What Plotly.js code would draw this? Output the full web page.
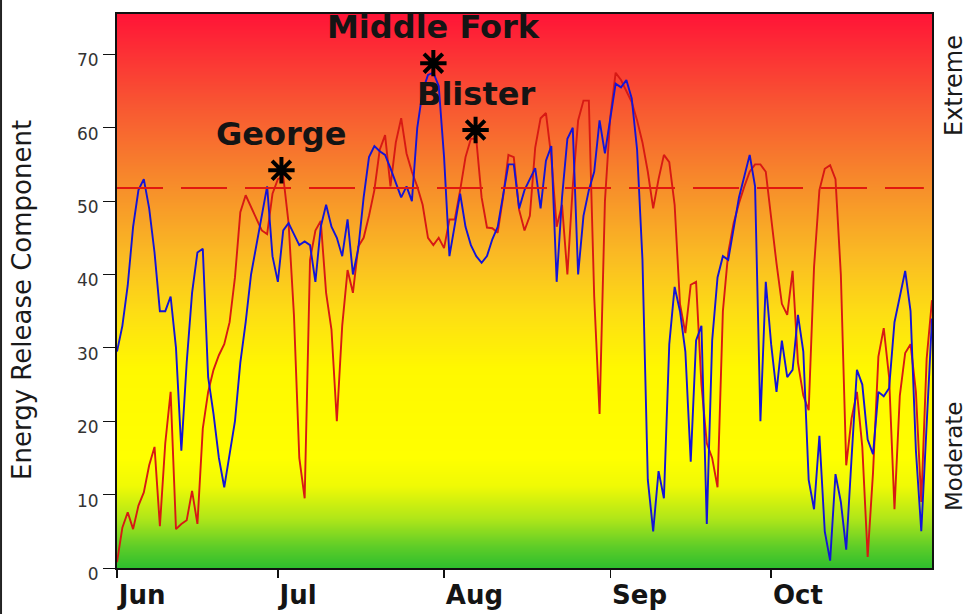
<!DOCTYPE html>
<html>
<head>
<meta charset="utf-8">
<script src="https://cdn.plot.ly/plotly-3.0.1.min.js"></script>
<style>html,body{margin:0;padding:0;background:#fff;}#chart{width:969px;height:614px;}</style>
</head>
<body>
<div id="chart"></div>
<script>
// ---- data ----
const startDate = [2003, 5, 1];   // June 1 (month index 5)
const blueERC = [29.5,33,38.5,46.5,51.5,53,49,43,35,35,37,30,16,28,37.5,43,43.5,26,21,15,11,15.5,20,28,33.5,
  40,44,48.5,52,42.5,39,46,47,45.5,44,44.5,44,39,46.5,49.5,46.5,45,42.5,47.5,40,43.5,50.5,56,57.5,56.8,
  56.3,54.5,52.5,50.5,52,50,60,65,67.2,67.5,65.7,56,42.5,46.5,51,46.5,44,42.5,41.6,42.5,44.8,46.5,50.5,55,55,
  49,51.5,53,54.5,49,55.5,57.5,39,50.5,58.5,60,40,48,51.5,54,61,56.5,61,66,65.5,66.5,64,57,42,12,
  5,13.2,9.5,30.5,38.3,35,29.5,14.5,31,33,6,31,39.6,42.5,42,46.5,50.5,53.4,56.3,52,20,39,30.5,24,31,
  26,27,34.5,29.5,12,8,18,5,1,12.8,9,2.5,15,27,25,17.5,15.5,24,23.4,24.5,33.5,37,40.5,35,16,5,20.4,34];
const redERC = [0.8,5.5,7.6,5.3,8.5,10.3,14,16.5,5.7,17,24,5.3,6,6.5,10.5,6,19,24,27,29,30.5,33.5,39.6,48.5,50.8,
  49.2,47.5,46,45.5,51,53,53.4,47,34.5,15,9.5,42,46,47.3,37.5,32.5,20,33,40.6,37.5,43.8,45,48,51.5,57,
  59,52,58,61.3,56.5,54,52,49.5,45,44,45,43.6,47.5,47.5,51.5,56,58.5,58.5,50.5,46.4,46.3,45.7,50.5,56.3,56,
  48.8,46,48,57.3,61.3,62,56,46.5,49.5,40,52,61,63.7,63.7,37,21,50,61.5,67.5,66.5,65,63.5,61,58,54,
  49,53,56.3,55.3,49.5,36,32,38.6,39,25,17,15,11,35,43,47,49.7,52,54,55,55,54,47.5,41.5,36,
  34.5,40.5,28,23.5,21.5,41,51.5,54.4,54.9,53,40,14,20.4,24,16.5,1.5,13,28.8,32.7,26,8,23.5,29.3,30.5,24,9,28.5,36.5];
const fireNames = ['George', 'Middle Fork', 'Blister'];
const fireDates = ['2003-07-01 16:00', '2003-07-30 00:00', '2003-08-06 21:00'];
const fireERC = [54.2, 68.8, 59.7];
const monthTicks = ['2003-06-01', '2003-07-01', '2003-08-01', '2003-09-01', '2003-10-01'];
const monthLabels = ['Jun', 'Jul', 'Aug', 'Sep', 'Oct'];
const yTicks = [0, 10, 20, 30, 40, 50, 60, 70];
const threshold = 51.8;
const xRange = ['2003-06-01', '2003-10-31'];
const yRange = [0, 75.5];
// background gradient levels (value axis)
const bgLevels = [-10, 0, 10, 20, 30, 40, 50, 60, 70, 80, 90];

// ---- build ----
const dates = blueERC.map((_, i) => {
  const d = new Date(Date.UTC(startDate[0], startDate[1], startDate[2] + i));
  return d.toISOString().slice(0, 10);
});

const bgColorscale = [
  [0.00, 'rgb(45,190,45)'],
  [0.04, 'rgb(95,205,40)'],
  [0.09, 'rgb(175,230,25)'],
  [0.15, 'rgb(240,250,5)'],
  [0.20, 'rgb(255,255,0)'],
  [0.36, 'rgb(255,248,0)'],
  [0.46, 'rgb(253,222,20)'],
  [0.56, 'rgb(250,188,35)'],
  [0.68, 'rgb(247,145,42)'],
  [0.84, 'rgb(248,85,50)'],
  [1.00, 'rgb(255,20,55)']
];

const bg = {
  type: 'heatmap',
  x: ['2003-05-20', '2003-11-10'],
  y: bgLevels,
  z: bgLevels.map(v => [v, v]),
  zmin: yRange[0], zmax: yRange[1],
  zsmooth: 'best',
  colorscale: bgColorscale,
  showscale: false,
  hoverinfo: 'skip'
};

const redTrace = {
  type: 'scatter', mode: 'lines', x: dates, y: redERC,
  line: {color: 'rgb(215,25,20)', width: 1.9}, hoverinfo: 'x+y', name: 'red'
};
const blueTrace = {
  type: 'scatter', mode: 'lines', x: dates, y: blueERC,
  line: {color: 'rgb(20,20,215)', width: 1.9}, hoverinfo: 'x+y', name: 'blue'
};
const stars = {
  type: 'scatter', mode: 'markers', x: fireDates, y: fireERC,
  marker: {symbol: 'asterisk-open', size: 22, color: '#000', line: {color: '#000', width: 4}},
  hoverinfo: 'text', text: fireNames, cliponaxis: false
};

const annotations = fireNames.map((n, i) => ({
  x: fireDates[i], y: fireERC[i], xref: 'x', yref: 'y', text: '<b>' + n + '</b>',
  showarrow: false, yshift: 36, xanchor: 'center', yanchor: 'middle',
  font: {family: 'DejaVu Sans', size: 32, color: '#141414'}
}));
annotations.push(
  {x: -0.1166, y: 0.4838, xref: 'paper', yref: 'paper', text: 'Energy Release Component',
   textangle: -90, showarrow: false, xanchor: 'center', yanchor: 'middle',
   font: {family: 'DejaVu Sans', size: 26, color: '#1a1a1a'}},
  {x: 1.0270, y: 0.870, xref: 'paper', yref: 'paper', text: 'Extreme',
   textangle: -90, showarrow: false, xanchor: 'center', yanchor: 'middle',
   font: {family: 'DejaVu Sans', size: 24, color: '#1a1a1a'}},
  {x: 1.0270, y: 0.2004, xref: 'paper', yref: 'paper', text: 'Moderate',
   textangle: -90, showarrow: false, xanchor: 'center', yanchor: 'middle',
   font: {family: 'DejaVu Sans', size: 23, color: '#1a1a1a'}}
);

const layout = {
  width: 969, height: 614,
  margin: {l: 117, r: 37, t: 14, b: 46, pad: 0},
  paper_bgcolor: '#ffffff', plot_bgcolor: '#ffffff',
  showlegend: false,
  xaxis: {
    type: 'date', range: xRange, autorange: false,
    tickmode: 'array', tickvals: monthTicks, ticktext: monthLabels,
    ticks: 'outside', ticklen: 8, tickwidth: 1.5, tickcolor: '#111',
    ticklabelposition: 'outside right', ticklabelstandoff: 3,
    tickfont: {family: 'DejaVu Sans', size: 26, color: '#141414', weight: 'bold'},
    showgrid: false, zeroline: false,
    showline: true, linecolor: '#111', linewidth: 2, mirror: true
  },
  yaxis: {
    range: yRange, autorange: false,
    tickmode: 'array', tickvals: yTicks,
    ticks: 'outside', ticklen: 12, tickwidth: 1, tickcolor: '#111',
    ticklabelshift: 6, ticklabelstandoff: 1,
    tickfont: {family: 'DejaVu Sans', size: 17, color: '#333'},
    showgrid: false, zeroline: false,
    showline: true, linecolor: '#111', linewidth: 2, mirror: true
  },
  shapes: [
    {type: 'line', xref: 'paper', yref: 'y', x0: 0, x1: 0.99, y0: threshold, y1: threshold,
     line: {color: 'rgb(225,25,15)', width: 2, dash: '46px,18px'}, layer: 'above'},
    {type: 'line', xref: 'paper', yref: 'paper', x0: -0.1423, x1: -0.1423, y0: -0.09, y1: 1.03,
     line: {color: '#222', width: 2}}
  ],
  annotations: annotations
};

Plotly.newPlot('chart', [bg, redTrace, blueTrace, stars], layout, {displayModeBar: false, staticPlot: true});
</script>
</body>
</html>
